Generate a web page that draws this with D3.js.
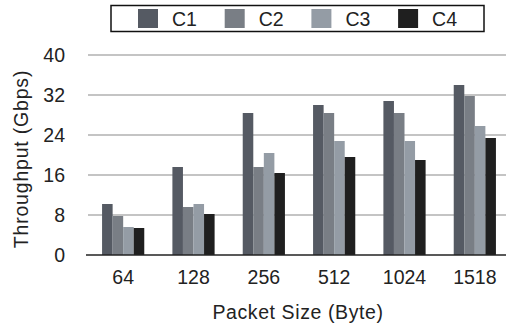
<!DOCTYPE html>
<html>
<head>
<meta charset="utf-8">
<script src="https://cdn.jsdelivr.net/npm/d3@7"></script>
<style>
  body { margin: 0; background: #fff; }
  text { font-family: "Liberation Sans", Arial, sans-serif; fill: #222; }
</style>
</head>
<body>
<div id="chart"></div>
<script>
var sizes = ["64", "128", "256", "512", "1024", "1518"];
var configs = ["C1", "C2", "C3", "C4"];
var c1 = [10.2, 17.6, 28.4, 30.0, 30.8, 34.0];
var c2 = [7.8, 9.6, 17.6, 28.4, 28.4, 31.8];
var c3 = [5.6, 10.2, 20.4, 22.8, 22.8, 25.8];
var c4 = [5.4, 8.2, 16.4, 19.6, 19.0, 23.4];
var yTicks = [0, 8, 16, 24, 32, 40];

var series = [c1, c2, c3, c4];
var width = 506,
    height = 328;

var color = d3.scaleOrdinal()
    .domain(configs)
    .range(["#555a63", "#797e85", "#949ca5", "#1f1f1f"]);

var x = d3.scaleBand()
    .domain(sizes)
    .range([88, 510])
    .paddingInner(0.4)
    .paddingOuter(0.2);

var xSub = d3.scaleBand()
    .domain(configs)
    .range([0, x.bandwidth()]);

var y = d3.scaleLinear()
    .domain([0, 40])
    .range([255, 55]);

var svg = d3.select("#chart").append("svg")
    .attr("width", width)
    .attr("height", height);

// gridlines
svg.append("g")
    .selectAll("line")
    .data(yTicks.slice(1))
    .enter().append("line")
    .attr("x1", 88)
    .attr("x2", width)
    .attr("y1", function (d) { return y(d); })
    .attr("y2", function (d) { return y(d); })
    .attr("stroke", "#c4c4c4")
    .attr("stroke-width", 2);

// y tick labels
svg.append("g")
    .selectAll("text")
    .data(yTicks)
    .enter().append("text")
    .attr("x", 65)
    .attr("y", function (d) { return y(d) + 7; })
    .attr("text-anchor", "end")
    .style("font-size", "19.5px")
    .text(function (d) { return d; });

// bars
var rows = sizes.map(function (s, i) {
    return { size: s, values: configs.map(function (c, j) { return { key: c, value: series[j][i] }; }) };
});

var g = svg.selectAll(".group")
    .data(rows)
    .enter().append("g")
    .attr("class", "group")
    .attr("transform", function (d) { return "translate(" + x(d.size) + ",0)"; });

g.selectAll("rect")
    .data(function (d) { return d.values; })
    .enter().append("rect")
    .attr("x", function (d) { return xSub(d.key); })
    .attr("width", xSub.bandwidth())
    .attr("y", function (d) { return y(d.value); })
    .attr("height", function (d) { return y(0) - y(d.value); })
    .style("fill", function (d) { return color(d.key); });

// baseline
svg.append("line")
    .attr("x1", 86)
    .attr("x2", width)
    .attr("y1", y(0))
    .attr("y2", y(0))
    .attr("stroke", "#222")
    .attr("stroke-width", 1.5);

// x tick labels
svg.append("g")
    .selectAll("text")
    .data(sizes)
    .enter().append("text")
    .attr("x", function (d) { return x(d) + x.bandwidth() / 2; })
    .attr("y", 284)
    .attr("text-anchor", "middle")
    .style("font-size", "19.5px")
    .text(function (d) { return d; });

// axis titles
svg.append("text")
    .attr("x", 298)
    .attr("y", 319)
    .attr("text-anchor", "middle")
    .style("font-size", "19.5px")
    .style("letter-spacing", "0.6px")
    .text("Packet Size (Byte)");

svg.append("text")
    .attr("transform", "translate(28,159) rotate(-90)")
    .attr("text-anchor", "middle")
    .style("font-size", "19.5px")
    .style("letter-spacing", "0.8px")
    .text("Throughput (Gbps)");

// legend
var legend = svg.append("g");
legend.append("rect")
    .attr("x", 111)
    .attr("y", 5.5)
    .attr("width", 373)
    .attr("height", 26)
    .attr("fill", "#fff")
    .attr("stroke", "#111")
    .attr("stroke-width", 1.5);

var item = legend.selectAll(".item")
    .data(configs)
    .enter().append("g")
    .attr("class", "item")
    .attr("transform", function (d, i) { return "translate(" + (138 + i * 86.7) + ",0)"; });

item.append("rect")
    .attr("x", 0)
    .attr("y", 9)
    .attr("width", 20)
    .attr("height", 19)
    .style("fill", function (d) { return color(d); });

item.append("text")
    .attr("x", 34)
    .attr("y", 25.7)
    .style("font-size", "19.5px")
    .text(function (d) { return d; });
</script>
</body>
</html>
